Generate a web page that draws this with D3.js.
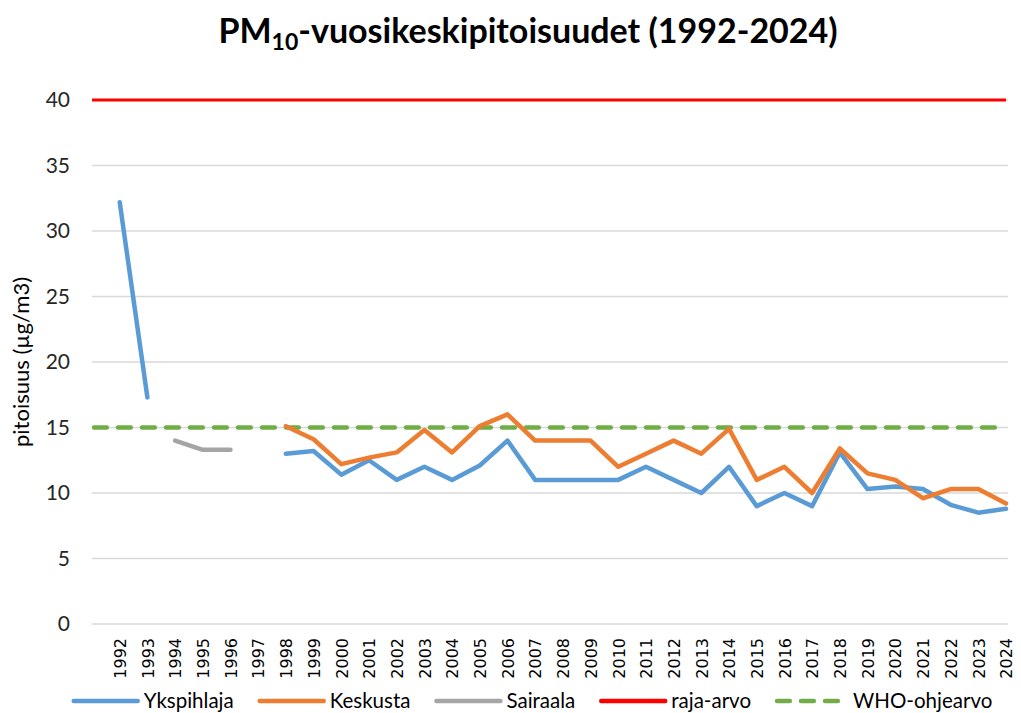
<!DOCTYPE html>
<html>
<head>
<meta charset="utf-8">
<script src="https://cdn.jsdelivr.net/npm/d3@7"></script>
<style>
  body { margin: 0; background: #fff; }
  svg { display: block; }
</style>
</head>
<body>
<svg id="chart" width="1021" height="713"></svg>
<script>
// categories: first slot is a blank category (no label), as in the original
const years = ['', '1992', '1993', '1994', '1995', '1996', '1997', '1998', '1999', '2000',
  '2001', '2002', '2003', '2004', '2005', '2006', '2007', '2008', '2009', '2010',
  '2011', '2012', '2013', '2014', '2015', '2016', '2017', '2018', '2019', '2020',
  '2021', '2022', '2023', '2024'];

const ykspihlaja = [null, 32.2, 17.3, null, null, null, null, 13.0, 13.2, 11.4,
  12.5, 11.0, 12.0, 11.0, 12.1, 14.0, 11.0, 11.0, 11.0, 11.0,
  12.0, 11.0, 10.0, 12.0, 9.0, 10.0, 9.0, 13.1, 10.3, 10.5,
  10.3, 9.1, 8.5, 8.8];

const keskusta = [null, null, null, null, null, null, null, 15.1, 14.1, 12.2,
  12.7, 13.1, 14.8, 13.1, 15.1, 16.0, 14.0, 14.0, 14.0, 12.0,
  13.0, 14.0, 13.0, 14.9, 11.0, 12.0, 10.0, 13.4, 11.5, 11.0,
  9.6, 10.3, 10.3, 9.2];

const sairaala = [null, null, null, 14.0, 13.3, 13.3, null, null, null, null,
  null, null, null, null, null, null, null, null, null, null,
  null, null, null, null, null, null, null, null, null, null,
  null, null, null, null];

const rajaArvo = 40;
const whoOhjearvo = 15;

const yTicks = [0, 5, 10, 15, 20, 25, 30, 35, 40];

const series = [
  {name: 'Ykspihlaja', values: ykspihlaja, color: '#5b9bd5'},
  {name: 'Keskusta', values: keskusta, color: '#ed7d31'},
  {name: 'Sairaala', values: sairaala, color: '#a5a5a5'}
];

const svg = d3.select('#chart');
const margin = {left: 92, right: 15, top: 100, bottom: 89};
const width = 1021, height = 713;

const x = d3.scalePoint()
  .domain(years)
  .range([margin.left, width - margin.right]);

const y = d3.scaleLinear()
  .domain([0, 40])
  .range([height - margin.bottom, margin.top]);

// title
const title = svg.append('text')
  .attr('x', 528)
  .attr('y', 43)
  .attr('text-anchor', 'middle')
  .style('font-family', 'Lato, sans-serif')
  .style('font-weight', 'bold')
  .style('font-size', '34px')
  .attr('fill', '#000');
title.append('tspan').text('PM');
title.append('tspan').text('10').attr('dy', 7).style('font-size', '23px');
title.append('tspan').text('-vuosikeskipitoisuudet (1992-2024)').attr('dy', -7);

// gridlines
svg.append('g')
  .attr('class', 'grid')
  .selectAll('line')
  .data(yTicks)
  .join('line')
  .attr('x1', margin.left)
  .attr('x2', width - margin.right + 2)
  .attr('y1', d => y(d))
  .attr('y2', d => y(d))
  .attr('stroke', '#d9d9d9')
  .attr('stroke-width', 1.5);

// y axis labels
const yAxis = d3.axisLeft(y).tickValues(yTicks).tickSize(0).tickPadding(0);
const gy = svg.append('g')
  .attr('transform', `translate(${margin.left - 22},0)`)
  .call(yAxis);
gy.select('.domain').remove();
gy.selectAll('text')
  .style('font-family', 'Lato, sans-serif')
  .style('font-size', '21px')
  .attr('fill', '#262626');

// y axis title
svg.append('text')
  .attr('transform', `translate(29, ${(y(0) + y(40)) / 2}) rotate(-90)`)
  .attr('text-anchor', 'middle')
  .style('font-family', 'Lato, sans-serif')
  .style('font-size', '22px')
  .attr('fill', '#000')
  .text('pitoisuus (µg/m3)');

// x axis labels
const xAxis = d3.axisBottom(x).tickSize(0).tickPadding(0);
const gx = svg.append('g')
  .attr('transform', `translate(0,${y(0)})`)
  .call(xAxis);
gx.select('.domain').remove();
gx.selectAll('text')
  .attr('transform', 'rotate(-90)')
  .attr('x', -14)
  .attr('y', 0)
  .attr('dy', '0.36em')
  .attr('text-anchor', 'end')
  .style('font-family', '"DejaVu Sans", sans-serif')
  .style('font-size', '16px')
  .attr('fill', '#000');

// reference lines
const first = years[0], last = years[years.length - 1];
svg.append('line')
  .attr('x1', x(first)).attr('x2', x(last))
  .attr('y1', y(rajaArvo)).attr('y2', y(rajaArvo))
  .attr('stroke', '#ff0000')
  .attr('stroke-width', 3.2);

svg.append('line')
  .attr('x1', x(first) + 2).attr('x2', x(last))
  .attr('y1', y(whoOhjearvo)).attr('y2', y(whoOhjearvo))
  .attr('stroke', '#70ad47')
  .attr('stroke-width', 4.5)
  .attr('stroke-linecap', 'round')
  .attr('stroke-dasharray', '12.8,11.2');

// data lines
const line = d3.line()
  .defined(d => d.v != null)
  .x(d => x(d.year))
  .y(d => y(d.v));

svg.append('g')
  .selectAll('path')
  .data(series)
  .join('path')
  .attr('fill', 'none')
  .attr('stroke', d => d.color)
  .attr('stroke-width', 4.5)
  .attr('stroke-linejoin', 'round')
  .attr('stroke-linecap', 'round')
  .attr('d', d => line(d.values.map((v, i) => ({year: years[i], v}))));

// legend
const legendItems = [
  {name: 'Ykspihlaja', color: '#5b9bd5', dash: null},
  {name: 'Keskusta', color: '#ed7d31', dash: null},
  {name: 'Sairaala', color: '#a5a5a5', dash: null},
  {name: 'raja-arvo', color: '#ff0000', dash: null},
  {name: 'WHO-ohjearvo', color: '#70ad47', dash: '12.8,11.2'}
];

const legend = svg.append('g').attr('class', 'legend');
const ly = 701;
let lx = 0;
legendItems.forEach((item, i) => {
  const g = legend.append('g').attr('transform', `translate(${lx},0)`);
  g.append('line')
    .attr('x1', 2).attr('x2', i === 4 ? 64 : 66)
    .attr('y1', ly).attr('y2', ly)
    .attr('stroke', item.color)
    .attr('stroke-width', 4.5)
    .attr('stroke-linecap', 'round')
    .attr('stroke-dasharray', item.dash);
  const tx = i === 4 ? 78 : 72;
  const t = g.append('text')
    .attr('x', tx)
    .attr('y', ly)
    .attr('dy', '0.35em')
    .style('font-family', 'Lato, sans-serif')
    .style('font-size', '20.5px')
    .attr('fill', '#000')
    .text(item.name);
  const w = t.node().getComputedTextLength();
  lx += tx + w + 24;
});
const lw = lx - 24;
legend.attr('transform', `translate(${532 - lw / 2},0)`);
</script>
</body>
</html>
